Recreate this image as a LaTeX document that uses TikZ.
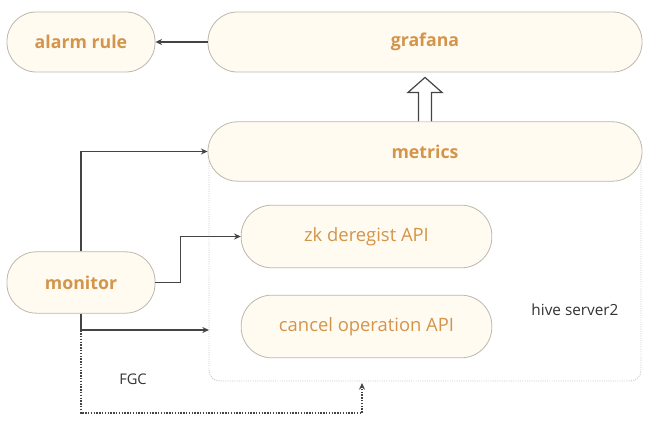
\documentclass[tikz,border=0pt]{standalone}
\usepackage{fontspec}
\setmainfont{Open Sans}
\usetikzlibrary{arrows.meta,calc}
\definecolor{pillfill}{HTML}{FFFBF1}
\definecolor{pillline}{HTML}{BDB7AC}
\definecolor{labtxt}{HTML}{D4944A}
\definecolor{conn}{HTML}{444444}
\begin{document}
\begin{tikzpicture}[x=0.75pt,y=-0.75pt,
  pill/.style={draw=pillline, line width=0.6pt, fill=pillfill, rounded corners=22pt,
    minimum height=45pt, inner sep=0pt, text=labtxt, font=\fontsize{13.8}{16}\selectfont},
  boldpill/.style={pill, font=\fontsize{13.3}{16}\selectfont\bfseries},
  container/.style={draw=gray!45, densely dotted, line width=0.7pt, rounded corners=8pt,
    fill=white, inner sep=0pt},
  plain/.style={text=black!80, font=\fontsize{11.5}{13}\selectfont, inner sep=0pt},
  link/.style={draw=conn, line width=1.1pt, -{Stealth[length=5pt,width=4.5pt]}},
  fgclink/.style={draw=conn, line width=1.1pt, densely dotted, -{Stealth[length=5pt,width=4.5pt]}},
  hollow/.style={draw=conn, line width=0.9pt, fill=white, line join=miter}
]
\useasboundingbox (0,0) rectangle (667,434);

\node[container, minimum width=324pt, minimum height=171.75pt] (hs) at (425,266.5) {};
\node[boldpill, minimum width=111pt] (alarm) at (81,42) {alarm rule};
\node[boldpill, minimum width=325.5pt] (grafana) at (425,42) {grafana};
\node[boldpill, minimum width=325.5pt, minimum height=44.5pt] (metrics) at (425,151.5) {metrics};
\node[pill, minimum width=188pt, minimum height=47pt, rounded corners=23pt] (zk) at (366.5,236.5) {zk deregist API};
\node[pill, minimum width=188pt, minimum height=47pt, rounded corners=23pt] (cancel) at (366.5,326.5) {cancel operation API};
\node[boldpill, minimum width=111pt, minimum height=46pt] (monitor) at (81,282.5) {monitor};
\node[plain] (hslabel) at (575,310) {hive server2};
\node[plain, font=\fontsize{11}{12}\selectfont] (fgc) at (133,379) {FGC};

% hollow arrow metrics -> grafana
\draw[hollow] ($(metrics.north)+(-6.5,0)$) -- ++(0,-29) -- ++(-10.5,0)
  -- ($(metrics.north)+(0,-44)$) -- ($(metrics.north)+(17,-29)$) -- ++(-10.5,0)
  -- ($(metrics.north)+(6.5,0)$);

\coordinate (c1) at (209,330);
\coordinate (fgcEnd) at (362,383);
\coordinate (fgcCorner) at (362,413);

\draw[link] (grafana.west) -- (alarm.east);
\draw[link] (monitor.north) |- (metrics.west);
\draw[link] (monitor.east) -- ++(25,0) |- (zk.west);
\draw[link] (monitor.south) |- (c1);
\draw[fgclink] (monitor.south) |- (fgcCorner) -- (fgcEnd);
\end{tikzpicture}
\end{document}
